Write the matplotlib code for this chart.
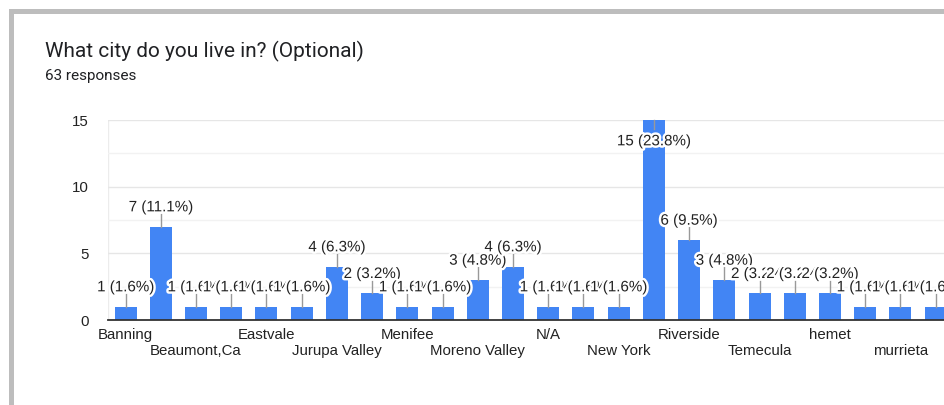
import matplotlib
matplotlib.use('Agg')
from matplotlib import pyplot as plt
from matplotlib import patheffects as pe
from matplotlib.patches import Rectangle

cities = ['Banning', 'Beaumont', 'Beaumont,Ca', 'Corona', 'Eastvale', 'Hemet',
          'Jurupa Valley', 'Lake Elsinore', 'Menifee', 'Mira Loma',
          'Moreno Valley', 'Murrieta', 'N/A', 'Norco', 'New York', 'Perris',
          'Riverside', 'San Jacinto', 'Temecula', 'Wildomar', 'hemet',
          'menifee', 'murrieta', 'riverside']
counts = [1, 7, 1, 1, 1, 1, 4, 2, 1, 1, 3, 4, 1, 1, 1, 15, 6, 3, 2, 2, 2,
          1, 1, 1]
total = 63
title = 'What city do you live in? (Optional)'
subtitle = '63 responses'

blue = '#4285f4'
W, H = 945, 405
fig = plt.figure(figsize=(W / 100, H / 100), dpi=100)

# card border (screenshot frame)
fig.add_artist(Rectangle((9 / W, (H - 14) / H), 1 - 9 / W, 5 / H,
               transform=fig.transFigure, color='#bdbdbd', lw=0))
fig.add_artist(Rectangle((9 / W, 0), 5 / W, (H - 9) / H,
               transform=fig.transFigure, color='#bdbdbd', lw=0))

fig.text(45 / W, 1 - 51 / H, title, family='Roboto', fontsize=15,
         color='#202124', va='center')
fig.text(45 / W, 1 - 76 / H, subtitle, family='Roboto', fontsize=11,
         color='#202124', va='center')

ax = fig.add_axes([108 / W, 1 - 320 / H, 1 - 108 / W, 200 / H])
x = list(range(len(counts)))
ax.bar(x, counts, width=0.625, color=blue, zorder=2)
ax.set_xlim(-0.5, (W - 126) / 35.2)
ax.set_ylim(0, 15)

ax.set_yticks([0, 5, 10, 15])
ax.set_yticks([2.5, 7.5, 12.5], minor=True)
ax.grid(axis='y', which='major', color='#e6e6e6', lw=1, zorder=0)
ax.grid(axis='y', which='minor', color='#f2f2f2', lw=1, zorder=0)
ax.axvline(-0.5, color='#ececec', lw=1, zorder=0)
for s in ['top', 'right', 'left']:
    ax.spines[s].set_visible(False)
ax.spines['bottom'].set_color('#333333')
ax.spines['bottom'].set_linewidth(1.3)
ax.spines['bottom'].set_zorder(3)
ax.tick_params(axis='both', which='both', length=0)
ax.tick_params(axis='y', pad=14)
ax.tick_params(axis='x', pad=6)

lbl_idx = x[::2]
lbls = []
for k, i in enumerate(lbl_idx):
    lbls.append(cities[i] if k % 2 == 0 else '\n' + cities[i])
ax.set_xticks(lbl_idx)
ax.set_xticklabels(lbls, va='top', linespacing=1.15)
for t in ax.get_xticklabels() + ax.get_yticklabels():
    t.set_family(['Liberation Sans', 'DejaVu Sans'])
    t.set_fontsize(10.8)
    t.set_color('#222222')

halo = [pe.withStroke(linewidth=3.5, foreground='white')]
for i, v in zip(x, counts):
    txt = '{} ({:.1f}%)'.format(v, 100 * v / total)
    if v + 1.6 > 15:
        ly0, ly1, ty = v, v - 0.7, v - 1.6
    else:
        ly0, ly1, ty = v, v + 0.95, v + 1.45
    ax.plot([i, i], [ly0, ly1], color='#999999', lw=1, zorder=4,
            clip_on=False)
    ax.text(i, ty, txt, ha='center', va='center', fontsize=10.9,
            family=['Liberation Sans', 'DejaVu Sans'], color='#222222',
            zorder=5, path_effects=halo, clip_on=False)

fig.savefig('out.png', dpi=100)
